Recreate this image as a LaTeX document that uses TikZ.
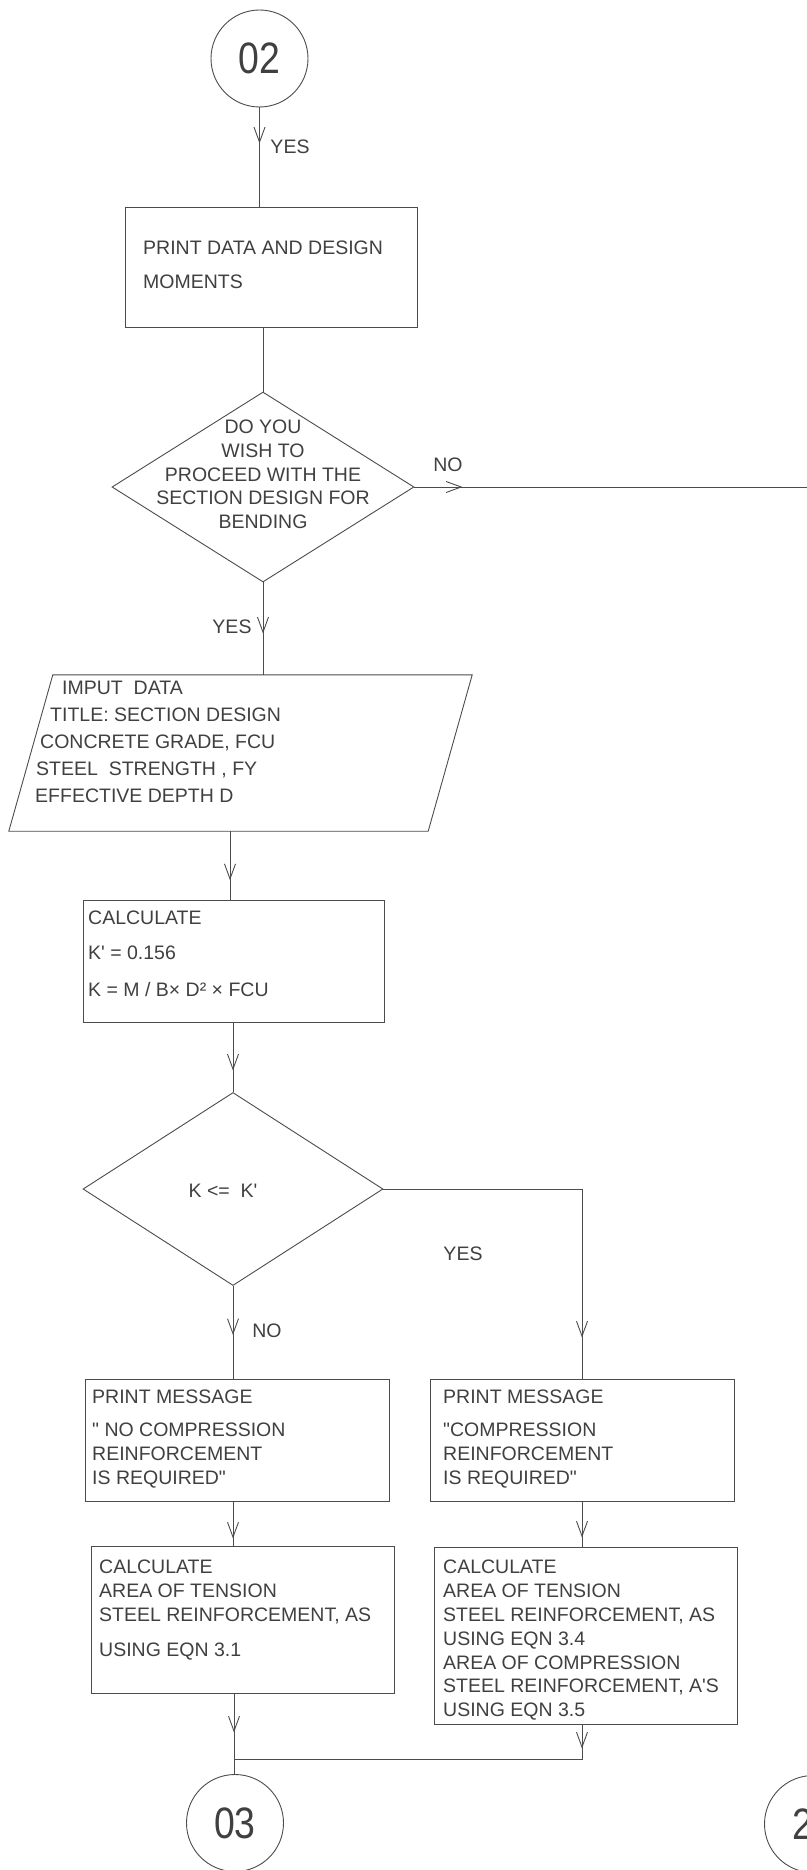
\documentclass[tikz,border=0pt]{standalone}
\usepackage{fontspec}
\usepackage{graphicx}
\setmainfont{Liberation Sans}
\usetikzlibrary{shapes.geometric,arrows.meta,decorations.markings}
\newcommand{\myfs}{\fontsize{19.5}{24}\selectfont}
\newcommand{\mybig}{\fontsize{44}{44}\selectfont}
\newcommand{\dq}{\textquotedbl}
\newcommand{\sq}{\textquotesingle}
\begin{document}
\begin{tikzpicture}[x=1pt,y=-1pt,
  line/.style={draw=black!70,line width=0.9pt},
  shp/.style={draw=black!70,line width=0.9pt,inner sep=0pt},
  procbox/.style={shp,rectangle},
  decbox/.style={shp,diamond},
  connector/.style={shp,circle,minimum size=97pt,text=black!75,font=\mybig},
  txt/.style={anchor=north west,inner sep=0pt,align=left,text=black!75,font=\myfs},
  lbl/.style={anchor=center,inner sep=0pt,text=black!75,font=\myfs},
  midarrow/.style={postaction={decorate,decoration={markings,
      mark=at position #1 with {\arrow{Straight Barb[length=15pt,width=11pt,line width=0.9pt]}}}}}
]
\useasboundingbox (0,0) rectangle (806,1870);
\fill[white] (0,0) rectangle (806,1870);

% column coordinates
\coordinate (colB) at (230,0);
\coordinate (colD) at (582,0);
\coordinate (colE) at (234,0);
\coordinate (edgeR) at (812,0);
\coordinate (mrg) at (234,1759);

% shapes
\node[connector] (c02) at (259.5,58.5) {\scalebox{0.85}[1]{02}};
\node[procbox,minimum width=292pt,minimum height=120pt] (box1) at (271,267) {};
\node[decbox,minimum width=302pt,minimum height=190pt] (d1) at (263,487) {};
\node[rectangle,inner sep=0pt,minimum width=419pt,minimum height=156pt] (para) at (240.5,753) {};
\draw[line] ([xshift=22pt]para.north west) -- ([xshift=22pt]para.north east)
  -- ([xshift=-22pt]para.south east) -- ([xshift=-22pt]para.south west) -- cycle;
\node[procbox,minimum width=301pt,minimum height=122pt] (kbox) at (233.5,961) {};
\node[decbox,minimum width=300pt,minimum height=193pt] (d2) at (233,1189) {};
\node[procbox,minimum width=304pt,minimum height=122pt] (nomsg) at (237,1440) {};
\node[procbox,minimum width=304pt,minimum height=122pt] (ymsg) at (582,1440) {};
\node[procbox,minimum width=303pt,minimum height=147pt] (calc1) at (242.5,1619.5) {};
\node[procbox,minimum width=303pt,minimum height=177pt] (calc2) at (585.5,1635.5) {};
\node[connector] (c03) at (235,1823) {\scalebox{0.85}[1]{03}};
\node[connector] (c2x) at (813,1824) {\scalebox{0.85}[1]{2\phantom{0}}};

% texts
\node[txt] (t1) at (143,241) {PRINT DATA AND DESIGN\\[10pt]MOMENTS};
\node[txt,font=\fontsize{19.5}{27}\selectfont] (t2) at (35,681)
  {\hspace*{27pt}IMPUT\ \ DATA\\
   \hspace*{15pt}TITLE: SECTION DESIGN\\
   \hspace*{5pt}CONCRETE GRADE, FCU\\
   \hspace*{1pt}STEEL\ \ STRENGTH , FY\\
   EFFECTIVE DEPTH D};
\node[lbl,align=center,font=\fontsize{19.5}{23.75}\selectfont] (t3) at (263,474.5)
  {DO YOU\\WISH TO\\PROCEED WITH THE\\SECTION DESIGN FOR\\BENDING};
\node[txt] (t4) at (88,911) {CALCULATE\\[11pt]K\sq{} = 0.156\\[13pt]K = M / B× D² × FCU};
\node[lbl] (t5) at (223,1191) {K <=\ \ K\sq};
\node[txt] (t6) at (92,1390) {PRINT MESSAGE\\[9pt]\dq{} NO COMPRESSION\\REINFORCEMENT\\IS REQUIRED\dq};
\node[txt] (t7) at (443,1390) {PRINT MESSAGE\\[9pt]\dq{}COMPRESSION\\REINFORCEMENT\\IS REQUIRED\dq};
\node[txt] (t8) at (99,1560) {CALCULATE\\AREA OF TENSION\\STEEL REINFORCEMENT, AS\\[11pt]USING EQN 3.1};
\node[txt,font=\fontsize{19.5}{23.8}\selectfont] (t9) at (443,1560)
  {CALCULATE\\AREA OF TENSION\\STEEL REINFORCEMENT, AS\\USING EQN 3.4\\AREA OF COMPRESSION\\STEEL REINFORCEMENT, A\sq{}S\\USING EQN 3.5};

% edge labels
\node[lbl] (l1) at (290,147) {YES};
\node[lbl] (l2) at (448,465) {NO};
\node[lbl] (l3) at (232,627) {YES};
\node[lbl] (l4) at (463,1254) {YES};
\node[lbl] (l5) at (267,1331) {NO};

% connectors
\draw[line,midarrow=36pt] (c02.south) -- (c02.south |- box1.north);
\draw[line] (d1.north |- box1.south) -- (d1.north);
\draw[line,midarrow=48pt] (d1.east) -- (d1.east -| edgeR);
\draw[line,midarrow=51pt] (d1.south) -- (d1.south |- para.north);
\draw[line,midarrow=49pt] (colB |- para.south) -- (colB |- kbox.north);
\draw[line,midarrow=48pt] (d2.north |- kbox.south) -- (d2.north);
\draw[line,midarrow=347pt] (d2.east) -| (colD |- ymsg.north);
\draw[line,midarrow=49pt] (d2.south) -- (d2.south |- nomsg.north);
\draw[line,midarrow=37pt] (d2.south |- nomsg.south) -- (d2.south |- calc1.north);
\draw[line,midarrow=36pt] (colD |- ymsg.south) -- (colD |- calc2.north);
\draw[line,midarrow=24pt] (colD |- calc2.south) |- (mrg);
\draw[line,midarrow=39pt] (colE |- calc1.south) -- (colE |- c03.north);
\end{tikzpicture}
\end{document}
